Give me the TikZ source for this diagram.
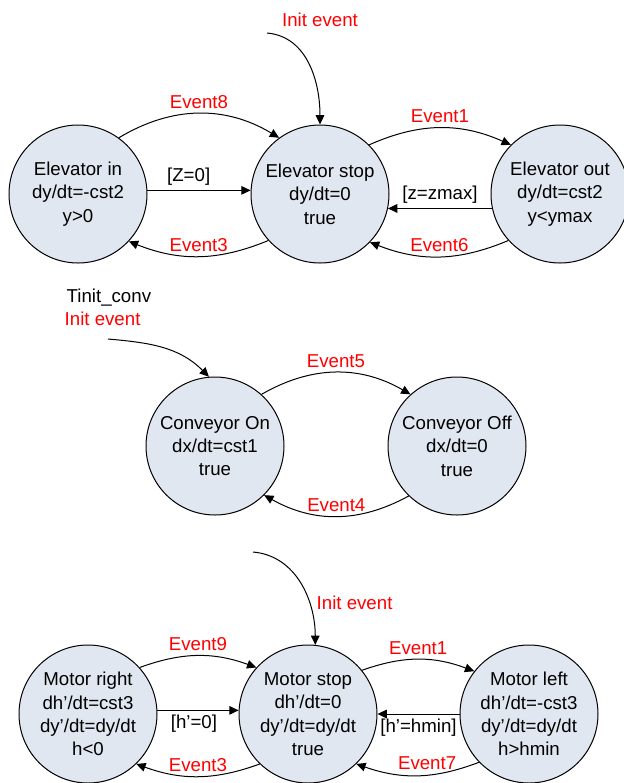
\documentclass[tikz,border=0pt]{standalone}
\usepackage{fontspec}
\setmainfont{Liberation Sans}
\usetikzlibrary{arrows.meta}
\definecolor{modefill}{RGB}{225,231,241}
\definecolor{evred}{RGB}{255,0,0}
\tikzset{trans/.style={-{Triangle[length=7pt,width=6.5pt]}, line width=0.75pt},
  mode/.style={circle, draw, line width=0.75pt, fill=modefill, minimum size=103.5pt,
    inner sep=0pt, align=center},
  ev/.style={text=evred}}

\begin{document}
\begin{tikzpicture}[x=0.75pt, y=0.75pt, font=\fontsize{14}{17.5}\selectfont]
  \useasboundingbox (0,0) rectangle (624,-783);
  % elevator
  \node[mode] (elin) at (78,-194) {Elevator in\\dy/dt=-cst2\\y>0};
  \node[mode] (elstop) at (320,-194) {Elevator stop\\dy/dt=0\\true};
  \node[mode] (elout) at (560,-194) {Elevator out\\dy/dt=cst2\\y<ymax};
  \node[ev] (elinit) at (320,-20) {Init event};
  \coordinate (elsrc) at (267,-33);
  \draw[trans] (elsrc) to[out=-5,in=90] (elstop.north);
  \draw[trans] (elin.54) to[bend left=31] node[ev, above]{Event8} (elstop.126);
  \draw[trans] (elin.3) -- node[above, pos=0.4]{[Z=0]} (elstop.177);
  \draw[trans] (elstop.222) to[bend left=22] node[ev, above]{Event3} (elin.317);
  \draw[trans] (elstop.45) to[bend left=24] node[ev, above]{Event1} (elout.135);
  \draw[trans] (elout.192) -- node[above]{[z=zmax]} (elstop.348);
  \draw[trans] (elout.222) to[bend left=22] node[ev, above]{Event6} (elstop.316);
  % conveyor
  \node[mode] (cvon) at (215,-446) {Conveyor On\\dx/dt=cst1\\true};
  \node[mode] (cvoff) at (457,-446) {Conveyor Off\\dx/dt=0\\true};
  \node[anchor=west] (cvtinit) at (62,-298) {Tinit\_conv};
  \node[ev, anchor=west] (cvinit) at (60,-319) {Init event};
  \coordinate (cvsrc) at (108,-339);
  \draw[trans] (cvsrc) to[out=-5,in=135] (cvon.95);
  \draw[trans] (cvon.48) to[bend left=30] node[ev, above]{Event5} (cvoff.132);
  \draw[trans] (cvoff.226) to[bend left=29] node[ev, above]{Event4} (cvon.315);
  % motor
  \node[mode] (mright) at (88,-714) {Motor right\\dh’/dt=cst3\\dy’/dt=dy/dt\\h<0};
  \node[mode] (mstop) at (308,-714) {Motor stop\\dh’/dt=0\\dy’/dt=dy/dt\\true};
  \node[mode] (mleft) at (529,-714) {Motor left\\dh’/dt=-cst3\\dy’/dt=dy/dt\\h>hmin};
  \node[ev, anchor=west] (mtinit) at (312,-603) {Init event};
  \coordinate (msrc) at (253,-552);
  \draw[trans] (msrc) to[out=-5,in=90] (mstop.84);
  \draw[trans] (mright.42) to[bend left=20] node[ev, above]{Event9} (mstop.138);
  \draw[trans] (mright.3) -- node[below, pos=0.45]{[h’=0]} (mstop.177);
  \draw[trans] (mstop.226) to[bend left=20] node[ev, above]{Event3} (mright.314);
  \draw[trans] (mstop.39) to[bend left=20] node[ev, above]{Event1} (mleft.142);
  \draw[trans] (mleft.180) -- node[below]{[h’=hmin]} (mstop.0);
  \draw[trans] (mleft.224) to[bend left=20] node[ev, above, pos=0.42]{Event7} (mstop.314);
\end{tikzpicture}
\end{document}
